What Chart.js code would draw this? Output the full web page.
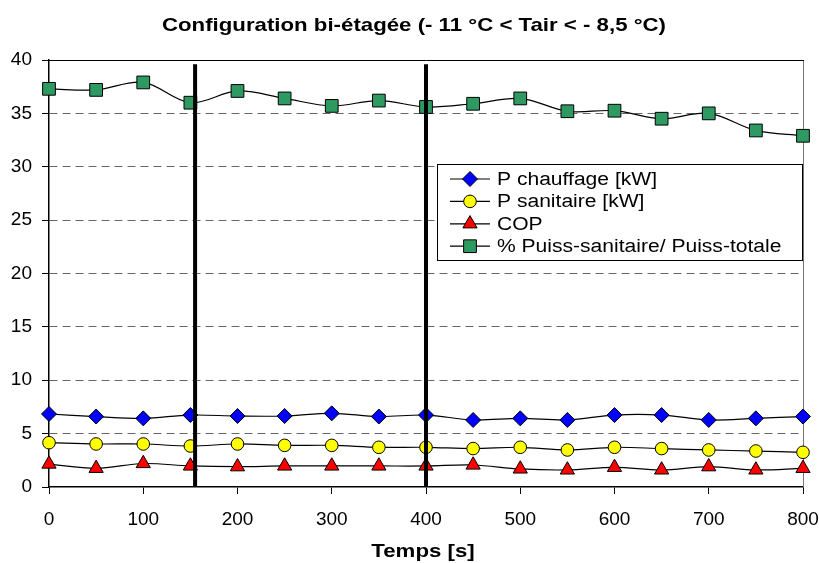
<!DOCTYPE html>
<html>
<head>
<meta charset="utf-8">
<script src="https://cdn.jsdelivr.net/npm/chart.js@4/dist/chart.umd.min.js"></script>
<style>
html,body{margin:0;padding:0;background:#fff;}
#wrap{width:819px;height:563px;position:relative;}
</style>
</head>
<body>
<div id="wrap"><canvas id="c" width="819" height="563"></canvas></div>
<script>
const titleText = 'Configuration bi-étagée (- 11 °C < Tair < - 8,5 °C)';
const xTitle = 'Temps [s]';
const times = [0, 50, 100, 150, 200, 250, 300, 350, 400, 450, 500, 550, 600, 650, 700, 750, 800];
const pChauffage = [6.84, 6.6, 6.43, 6.74, 6.65, 6.65, 6.9, 6.6, 6.74, 6.28, 6.43, 6.28, 6.74, 6.74, 6.28, 6.43, 6.6];
const pSanitaire = [4.15, 4.03, 4.03, 3.84, 4.03, 3.9, 3.9, 3.72, 3.72, 3.6, 3.72, 3.47, 3.72, 3.6, 3.47, 3.37, 3.25];
const cop = [2.15, 1.75, 2.2, 1.97, 1.9, 1.97, 1.97, 1.97, 1.97, 2.06, 1.69, 1.6, 1.84, 1.6, 1.9, 1.6, 1.75];
const pctSanitaire = [37.3, 37.2, 37.9, 36.0, 37.1, 36.4, 35.7, 36.2, 35.6, 35.9, 36.4, 35.2, 35.25, 34.5, 35.0, 33.4, 32.9];
const seriesLabels = ['P chauffage [kW]', 'P sanitaire [kW]', 'COP', '% Puiss-sanitaire/ Puiss-totale'];
const markerLines = [155, 400];
const markerTop = 39.6;
const yTicks = [0, 5, 10, 15, 20, 25, 30, 35, 40];
const xTicks = [0, 100, 200, 300, 400, 500, 600, 700, 800];

const FONT = '"Liberation Sans", Arial, sans-serif';
const STRETCH = 1.17;

function pts(arr){ return times.map((t,i)=>({x:t, y:arr[i]})); }

const styles = [
  {pointStyle:'rectRot', radius:7.5, bg:'#0000ff'},
  {pointStyle:'circle', radius:6.3, bg:'#ffff00'},
  {pointStyle:'triangle', radius:8.2, bg:'#ff0000'},
  {pointStyle:'rect', radius:9, bg:'#2e9a62'}
];
const seriesData = [pChauffage, pSanitaire, cop, pctSanitaire];

const datasets = seriesData.map((d,i)=>({
  label: seriesLabels[i],
  data: pts(d),
  borderColor: '#000',
  borderWidth: 1.2,
  tension: 0.35,
  pointStyle: styles[i].pointStyle,
  pointRadius: styles[i].radius,
  pointBackgroundColor: styles[i].bg,
  pointBorderColor: '#000',
  pointBorderWidth: 1,
  clip: false,
  order: 1
}));
markerLines.forEach(v=>{
  datasets.push({
    label: '',
    data: [{x:v, y:0}, {x:v, y:markerTop}],
    borderColor: '#000',
    borderWidth: 4,
    pointRadius: 0,
    tension: 0,
    clip: false,
    order: 0
  });
});

function stretchedText(ctx, text, x, y, align){
  ctx.save();
  const w = ctx.measureText(text).width * STRETCH;
  let left = x;
  if (align === 'center') left = x - w/2;
  ctx.translate(left, y);
  ctx.scale(STRETCH, 1);
  ctx.textAlign = 'left';
  ctx.fillText(text, 0, 0);
  ctx.restore();
}

const framePlugin = {
  id: 'frame',
  beforeDatasetsDraw(chart){
    const {ctx, chartArea:a} = chart;
    ctx.save();
    ctx.lineWidth = 1;
    ctx.strokeStyle = '#777';
    ctx.beginPath();
    ctx.moveTo(a.right+0.5, a.top);
    ctx.lineTo(a.right+0.5, a.bottom);
    ctx.stroke();
    ctx.strokeStyle = '#000';
    ctx.beginPath();
    ctx.moveTo(a.left, a.top+0.5);
    ctx.lineTo(a.right+1, a.top+0.5);
    ctx.stroke();
    ctx.restore();
  },
  afterDraw(chart){
    const {ctx, chartArea:a} = chart;
    ctx.save();
    ctx.fillStyle = '#000';
    ctx.textBaseline = 'alphabetic';
    ctx.font = 'bold 19px ' + FONT;
    stretchedText(ctx, titleText, 414, 31, 'center');
    stretchedText(ctx, xTitle, (a.left + a.right)/2 - 3, 557, 'center');
    ctx.restore();
  }
};

const legendPlugin = {
  id: 'boxLegend',
  afterDatasetsDraw(chart){
    const {ctx, chartArea:a} = chart;
    const bx = a.right - 366, by = a.top + 104, bw = 365, bh = 96;
    ctx.save();
    ctx.fillStyle = '#fff';
    ctx.fillRect(bx, by, bw, bh);
    ctx.strokeStyle = '#000';
    ctx.lineWidth = 1;
    ctx.strokeRect(bx+0.5, by+0.5, bw, bh);
    ctx.font = '18px ' + FONT;
    ctx.textBaseline = 'middle';
    for (let i=0;i<4;i++){
      const y = by + 15 + i*22.4;
      ctx.strokeStyle = '#000';
      ctx.lineWidth = 1.2;
      ctx.beginPath();
      ctx.moveTo(bx+13, y);
      ctx.lineTo(bx+53, y);
      ctx.stroke();
      ctx.fillStyle = styles[i].bg;
      ctx.strokeStyle = '#000';
      ctx.lineWidth = 1;
      Chart.helpers.drawPoint(ctx, {pointStyle: styles[i].pointStyle, radius: styles[i].radius, rotation: 0, borderWidth: 1}, bx+33, y);
      ctx.fillStyle = '#000';
      stretchedText(ctx, seriesLabels[i], bx+60, y+1, 'left');
    }
    ctx.restore();
  }
};

new Chart(document.getElementById('c'), {
  type: 'line',
  data: { datasets },
  plugins: [framePlugin, legendPlugin],
  options: {
    responsive: false,
    animation: false,
    devicePixelRatio: 1,
    layout: { padding: { left: 0, right: 16, top: 60, bottom: 0 } },
    plugins: {
      legend: { display: false },
      tooltip: { enabled: false },
      title: { display: false }
    },
    scales: {
      x: {
        type: 'linear',
        min: 0, max: 800,
        afterBuildTicks(scale){ scale.ticks = xTicks.map(v=>({value:v})); },
        afterFit(scale){ scale.height = 76; scale.paddingRight = 0; scale.paddingLeft = 0; },
        ticks: { color:'#000', font:{family:FONT, size:19}, padding: 14, maxRotation:0 },
        grid: { drawOnChartArea:false, drawTicks:true, tickLength:7, color:'#000', tickColor:'#000', tickBorderDash: [] },
        border: { color:'#000', width:1.5 }
      },
      y: {
        type: 'linear',
        min: 0, max: 40,
        afterBuildTicks(scale){ scale.ticks = yTicks.map(v=>({value:v})); },
        afterFit(scale){ scale.width = 49; scale.paddingTop = 0; scale.paddingBottom = 0; },
        ticks: { color:'#000', font:{family:FONT, size:19}, padding: 10 },
        grid: {
          drawTicks:true, tickLength:7, tickColor:'#000', tickBorderDash: [],
          color: (c)=> (c.tick && (c.tick.value===0 || c.tick.value===40)) ? 'rgba(0,0,0,0)' : '#666',
          lineWidth: 1
        },
        border: { color:'#000', width:1.5, dash:[8,5] }
      }
    }
  }
});
</script>
</body>
</html>
